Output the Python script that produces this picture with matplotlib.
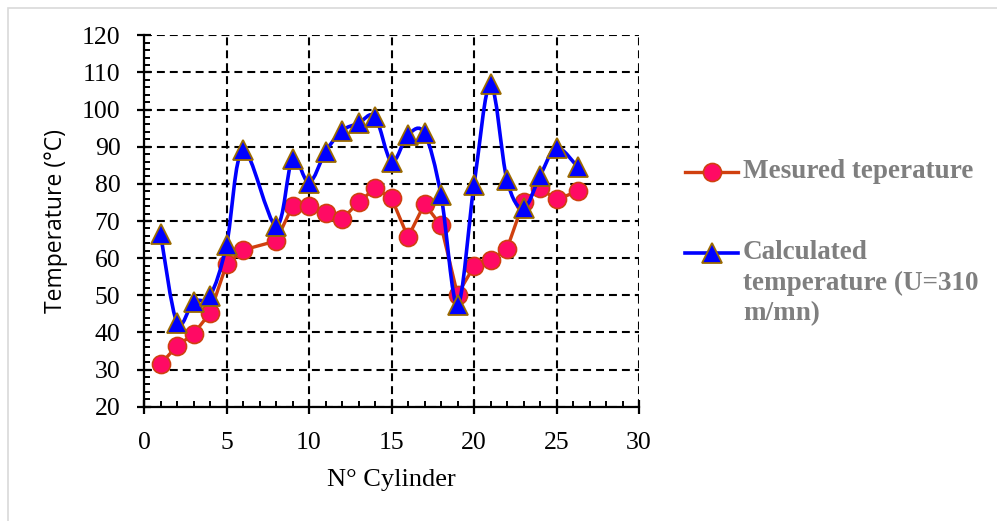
import matplotlib
matplotlib.use("Agg")
import matplotlib.pyplot as plt
import numpy as np
from matplotlib.path import Path
from matplotlib.patches import PathPatch, Rectangle
from matplotlib.lines import Line2D
from matplotlib.ticker import MultipleLocator

# Data
cylinder = [1, 2, 3, 4, 5, 6, 8, 9, 10, 11, 12, 13, 14, 15, 16, 17, 18, 19,
            20, 21, 22, 23, 24, 25, 26.3]
temp_measured = [31.5, 36.3, 39.6, 45.2, 58.3, 62.2, 64.6, 74.0, 74.1, 72.2,
                 70.5, 75.0, 78.8, 76.2, 65.6, 74.6, 68.8, 50.2, 57.8, 59.5,
                 62.5, 75.2, 78.8, 75.8, 78.0]
temp_calculated = [66.6, 42.6, 48.3, 49.8, 63.5, 89.1, 68.7, 86.8, 80.3, 88.6,
                   94.3, 96.3, 98.1, 86.0, 93.2, 93.6, 77.0, 47.3, 79.6, 107.0,
                   81.0, 73.4, 82.1, 89.7, 84.5]
labels = ["Mesured teperature", "Calculated\ntemperature (U=310\nm/mn)"]

RED_LINE = "#D0400F"
RED_FILL = "#FF0A64"
BLUE = "#0000FF"
TRI_EDGE = "#9C6B00"
SERIF = "Liberation Serif"


def smooth_path(xs, ys):
    """Excel-like smoothed line: cubic Bezier segments through the points."""
    pts = np.column_stack([xs, ys]).astype(float)
    n = len(pts)
    verts = [pts[0]]
    codes = [Path.MOVETO]
    for k in range(n - 1):
        p0 = pts[k - 1] if k > 0 else pts[k]
        p1, p2 = pts[k], pts[k + 1]
        p3 = pts[k + 2] if k + 2 < n else pts[k + 1]
        c1 = p1 + (p2 - p0) / 6.0
        c2 = p2 - (p3 - p1) / 6.0
        verts += [c1, c2, p2]
        codes += [Path.CURVE4] * 3
    return Path(verts, codes)


fig = plt.figure(figsize=(9.97, 5.21), dpi=100)
ax = fig.add_axes([144 / 997, 1 - 406.7 / 521, 495 / 997, 371.4 / 521])

# measured: straight segments
ax.plot(cylinder, temp_measured, color=RED_LINE, lw=2.4, marker="o", ms=13,
        mfc=RED_FILL, mec=RED_LINE, mew=1.2, zorder=3)

# calculated: smoothed line + triangles
ax.add_patch(PathPatch(smooth_path(cylinder, temp_calculated), fc="none",
                       ec=BLUE, lw=2.6, zorder=4, capstyle="round"))
ax.plot(cylinder, temp_calculated, ls="none", marker="^", ms=14,
        mfc=BLUE, mec=TRI_EDGE, mew=1.3, zorder=5)

ax.set_xlim(0, 30)
ax.set_ylim(20, 120)
ax.xaxis.set_major_locator(MultipleLocator(5))
ax.xaxis.set_minor_locator(MultipleLocator(1))
ax.yaxis.set_major_locator(MultipleLocator(10))
ax.yaxis.set_minor_locator(MultipleLocator(2))

ax.grid(which="major", color="black", lw=1.5, ls=(0, (3.8, 2.4)))
ax.set_axisbelow(True)
for s in ["top", "right"]:
    ax.spines[s].set_visible(False)
for s in ["left", "bottom"]:
    ax.spines[s].set_linewidth(1.6)
    ax.spines[s].set_zorder(6)

ax.tick_params(which="major", direction="inout", length=10, width=1.6,
               labelsize=18.5)
ax.tick_params(axis="y", which="major", pad=12)
ax.tick_params(axis="x", which="major", pad=13)
ax.tick_params(which="minor", direction="in", length=4.5, width=1.4)
for lab in ax.get_xticklabels() + ax.get_yticklabels():
    lab.set_fontfamily(SERIF)

ax.set_xlabel("N° Cylinder", fontsize=19, fontfamily=SERIF, labelpad=11)
ax.set_ylabel("Temperature (°C)", fontsize=16.5, fontfamily="Open Sans",
              labelpad=10)

# legend drawn by hand so the marker sits on the first text line
leg_y = [1 - 172.3 / 521, 1 - 253 / 521]
styles = [dict(color=RED_LINE, lw=2.4, marker="o", ms=13, mfc=RED_FILL,
               mec=RED_LINE, mew=1.2),
          dict(color=BLUE, lw=2.6, marker="^", ms=14, mfc=BLUE,
               mec=TRI_EDGE, mew=1.3)]
for y, lab, st in zip(leg_y, labels, styles):
    line = Line2D([685 / 997, 738 / 997], [y, y], transform=fig.transFigure,
                  markevery=[], **st)
    mk = Line2D([711.5 / 997], [y], transform=fig.transFigure, ls="none",
                **{k: v for k, v in st.items() if k not in ("lw",)})
    fig.add_artist(line)
    fig.add_artist(mk)
    fig.text(743 / 997, y + 13 / 521, lab, ha="left", va="top", fontsize=19.5,
             fontfamily=SERIF, fontweight="bold", color="#7F7F7F",
             linespacing=1.3)

# chart-area border
fig.add_artist(Rectangle((7.5 / 997, -0.1), 2, 1 - 7.5 / 521 + 0.1,
                         transform=fig.transFigure, fill=False,
                         ec="#D9D9D9", lw=1.2))

fig.savefig("out.png", dpi=100)
